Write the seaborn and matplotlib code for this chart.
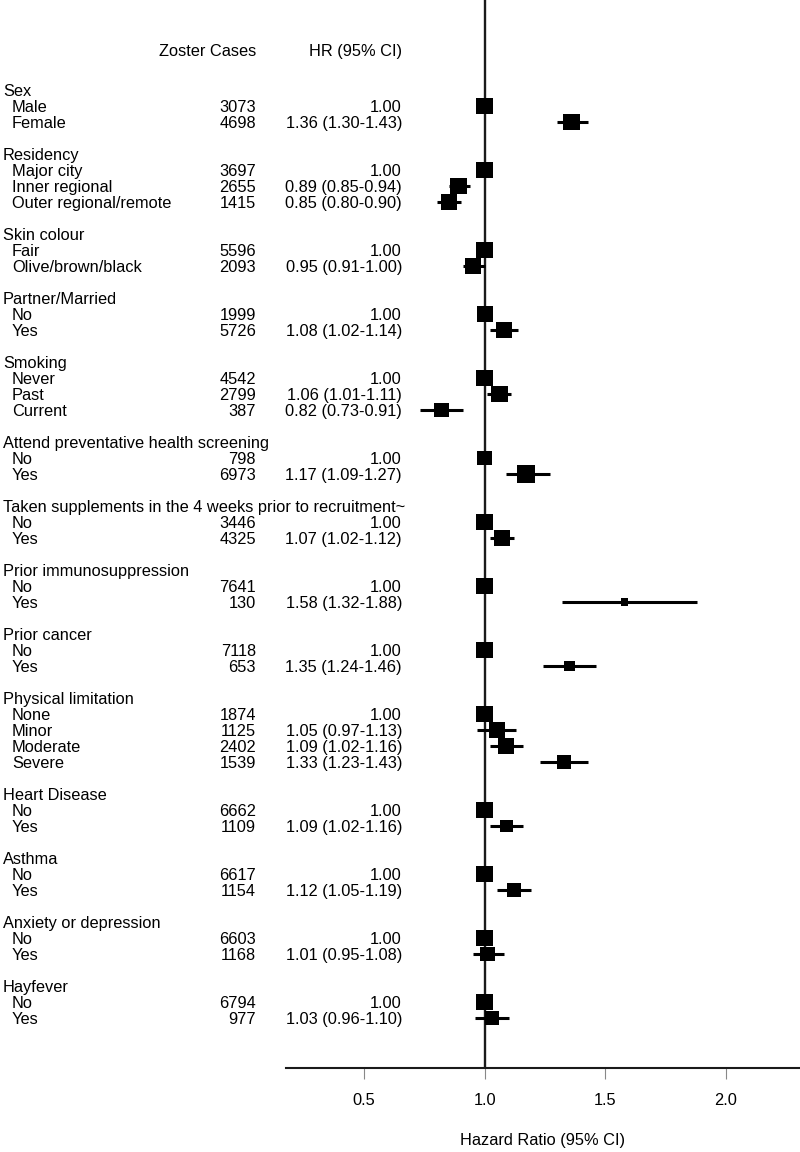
import seaborn as sns
import matplotlib.pyplot as plt
import matplotlib.transforms as mtransforms
import numpy as np
import pandas as pd

# forest plot of zoster hazard ratios

group_names = ["Sex", "Residency", "Skin colour", "Partner/Married", "Smoking",
               "Attend preventative health screening",
               "Taken supplements in the 4 weeks prior to recruitment~",
               "Prior immunosuppression", "Prior cancer", "Physical limitation",
               "Heart Disease", "Asthma", "Anxiety or depression", "Hayfever"]
levels = [["Male", "Female"],
          ["Major city", "Inner regional", "Outer regional/remote"],
          ["Fair", "Olive/brown/black"],
          ["No", "Yes"],
          ["Never", "Past", "Current"],
          ["No", "Yes"],
          ["No", "Yes"],
          ["No", "Yes"],
          ["No", "Yes"],
          ["None", "Minor", "Moderate", "Severe"],
          ["No", "Yes"],
          ["No", "Yes"],
          ["No", "Yes"],
          ["No", "Yes"]]
cases = [[3073, 4698], [3697, 2655, 1415], [5596, 2093], [1999, 5726],
         [4542, 2799, 387], [798, 6973], [3446, 4325], [7641, 130], [7118, 653],
         [1874, 1125, 2402, 1539], [6662, 1109], [6617, 1154], [6603, 1168],
         [6794, 977]]
hr = [[1.00, 1.36], [1.00, 0.89, 0.85], [1.00, 0.95], [1.00, 1.08],
      [1.00, 1.06, 0.82], [1.00, 1.17], [1.00, 1.07], [1.00, 1.58], [1.00, 1.35],
      [1.00, 1.05, 1.09, 1.33], [1.00, 1.09], [1.00, 1.12], [1.00, 1.01],
      [1.00, 1.03]]
ci_lo = [[None, 1.30], [None, 0.85, 0.80], [None, 0.91], [None, 1.02],
         [None, 1.01, 0.73], [None, 1.09], [None, 1.02], [None, 1.32], [None, 1.24],
         [None, 0.97, 1.02, 1.23], [None, 1.02], [None, 1.05], [None, 0.95],
         [None, 0.96]]
ci_hi = [[None, 1.43], [None, 0.94, 0.90], [None, 1.00], [None, 1.14],
         [None, 1.11, 0.91], [None, 1.27], [None, 1.12], [None, 1.88], [None, 1.46],
         [None, 1.13, 1.16, 1.43], [None, 1.16], [None, 1.19], [None, 1.08],
         [None, 1.10]]
# relative box weight (box side, largest = 1)
box_weight = [[0.94, 0.94], [0.94, 0.94, 0.89], [0.94, 0.89], [0.89, 0.94],
              [0.94, 0.94, 0.83], [0.83, 1.0], [0.94, 0.89], [0.94, 0.39],
              [0.94, 0.61], [0.94, 0.89, 0.89, 0.78], [0.94, 0.72], [0.94, 0.78],
              [0.94, 0.83], [0.94, 0.78]]

# build row table
rows = []
r = 0
for g, name in enumerate(group_names):
    rows.append(dict(row=r, label=name, header=True))
    r += 1
    for i, lev in enumerate(levels[g]):
        rows.append(dict(row=r, label=lev, header=False, cases=cases[g][i],
                         hr=hr[g][i], lo=ci_lo[g][i], hi=ci_hi[g][i],
                         w=box_weight[g][i]))
        r += 1
    r += 1
df = pd.DataFrame(rows)
est = df[~df.header].copy()

sns.set_style("white")
plt.rcParams['font.family'] = ['Liberation Sans', 'DejaVu Sans']
plt.rcParams['text.color'] = 'black'

fig = plt.figure(figsize=(8, 11.52), dpi=100)
ax = fig.add_axes([286 / 800, 1 - 1068 / 1152, 514 / 800, 1068 / 1152])

ax.axvline(1.0, color='#1a1a1a', lw=1.7, zorder=1)

ci = est.dropna(subset=['lo'])
ax.hlines(ci['row'], ci['lo'], ci['hi'], color='black', lw=2.2, zorder=2)

side_pt = est['w'] * 18 * 0.72
sns.scatterplot(data=est, x='hr', y='row', marker='s', color='black',
                s=side_pt ** 2, linewidth=0, zorder=3, ax=ax, legend=False)

ax.set_xlim(0.1755, 2.308)
ax.set_ylim(61.125, -5.625)
ax.set_xticks([0.5, 1.0, 1.5, 2.0])
ax.set_xticklabels(["0.5", "1.0", "1.5", "2.0"])
ax.set_yticks([])
ax.set_ylabel("")
ax.tick_params(axis='x', bottom=True, direction='out', length=8, width=0.8,
               color='#888888', pad=10, labelsize=11.8, labelcolor='black')
ax.set_xlabel("Hazard Ratio (95% CI)", fontsize=11.8, labelpad=18, color='black')
for s in ['left', 'top', 'right']:
    ax.spines[s].set_visible(False)
ax.spines['bottom'].set_linewidth(1.5)
ax.spines['bottom'].set_color('#1a1a1a')

# text columns
tr = mtransforms.blended_transform_factory(fig.transFigure, ax.transData)
fs = 11.8
off = 0.36
ax.text(256 / 800, -2.5 + off, "Zoster Cases", transform=tr, ha='right',
        va='baseline', fontsize=fs, clip_on=False)
ax.text(402 / 800, -2.5 + off, "HR (95% CI)", transform=tr, ha='right',
        va='baseline', fontsize=fs, clip_on=False)
for _, row in df.iterrows():
    y = row['row'] + off
    if row['header']:
        ax.text(3 / 800, y, row['label'], transform=tr, ha='left', va='baseline',
                fontsize=fs, clip_on=False)
    else:
        ax.text(12 / 800, y, row['label'], transform=tr, ha='left', va='baseline',
                fontsize=fs, clip_on=False)
        ax.text(256 / 800, y, str(int(row['cases'])), transform=tr, ha='right',
                va='baseline', fontsize=fs, clip_on=False)
        if pd.isna(row['lo']):
            txt = f"{row['hr']:.2f}"
        else:
            txt = f"{row['hr']:.2f} ({row['lo']:.2f}-{row['hi']:.2f})"
        ax.text(402 / 800, y, txt, transform=tr, ha='right', va='baseline',
                fontsize=fs, clip_on=False)

fig.savefig("out.png", dpi=100)
